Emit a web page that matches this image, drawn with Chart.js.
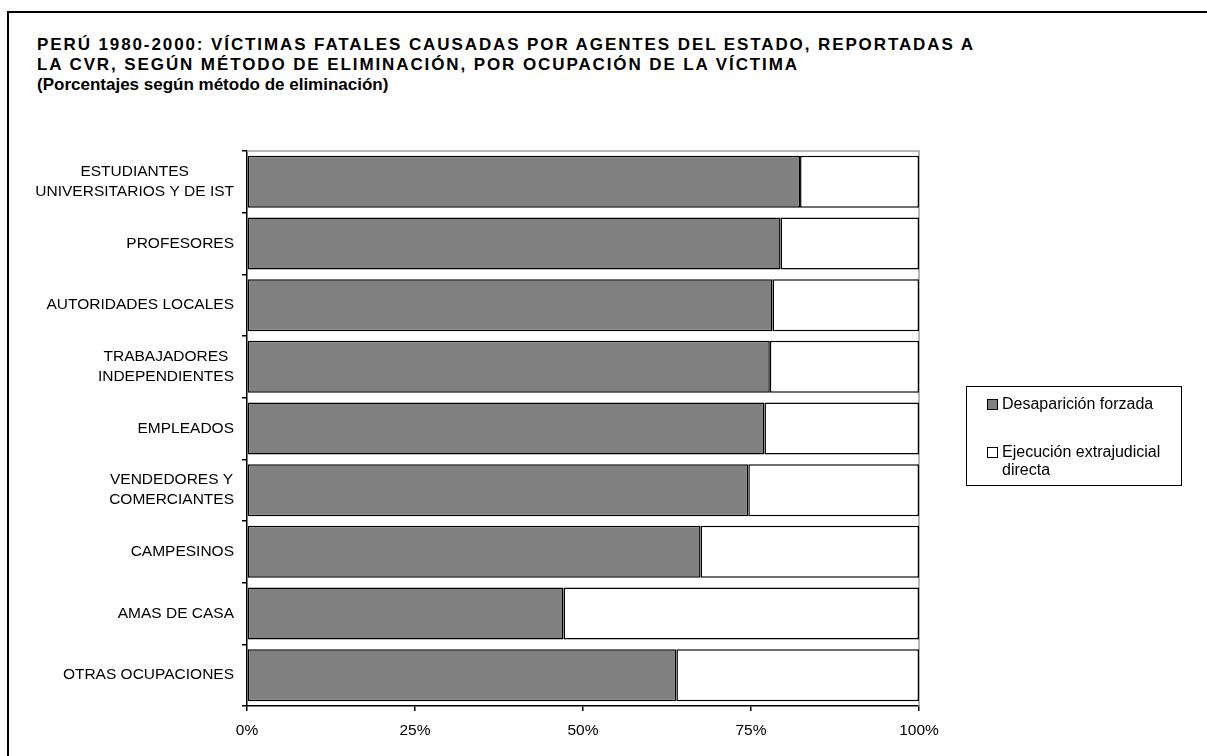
<!DOCTYPE html>
<html>
<head>
<meta charset="utf-8">
<script src="https://cdn.jsdelivr.net/npm/chart.js@4/dist/chart.umd.min.js"></script>
<style>
    body { margin: 0; width: 1207px; height: 756px; overflow: hidden; background: #fff; position: relative; font-family: "Liberation Sans", Arial, sans-serif; }
    #frame { position: absolute; left: 7px; top: 11px; width: 1240px; height: 800px; border: 2px solid #000; }
    #title { position: absolute; left: 37px; top: 35px; font-weight: bold; font-size: 17px; line-height: 20px; color: #000; white-space: nowrap; }
    #title .caps { letter-spacing: 1.9px; }
    #chart { position: absolute; left: 0; top: 0; }
    #legend { position: absolute; left: 966px; top: 386px; width: 214px; height: 98px; border: 1px solid #000; font-size: 16px; line-height: 18px; }
    .item { position: absolute; left: 20px; display: flex; align-items: flex-start; }
    .swatch { width: 9px; height: 9px; border: 1px solid #000; margin-top: 4px; margin-right: 4px; flex: none; }
</style>
</head>
<body>
<div id="frame"></div>
<div id="title"><span class="caps">PERÚ 1980-2000: VÍCTIMAS FATALES CAUSADAS POR AGENTES DEL ESTADO, REPORTADAS A</span><br><span class="caps">LA CVR, SEGÚN MÉTODO DE ELIMINACIÓN, POR OCUPACIÓN DE LA VÍCTIMA</span><br>(Porcentajes según método de eliminación)</div>
<canvas id="chart" width="1207" height="756"></canvas>
<div id="legend"></div>
<script>
const categories = [
    ['ESTUDIANTES', 'UNIVERSITARIOS Y DE IST'],
    ['PROFESORES'],
    ['AUTORIDADES LOCALES'],
    ['TRABAJADORES', 'INDEPENDIENTES'],
    ['EMPLEADOS'],
    ['VENDEDORES Y', 'COMERCIANTES'],
    ['CAMPESINOS'],
    ['AMAS DE CASA'],
    ['OTRAS OCUPACIONES']
];
const desaparicion = [82.3, 79.4, 78.2, 77.8, 77.0, 74.6, 67.5, 47.1, 63.9];
const ejecucion = [17.7, 20.6, 21.8, 22.2, 23.0, 25.4, 32.5, 52.9, 36.1];
const seriesNames = ['Desaparición forzada', ['Ejecución extrajudicial', 'directa']];
const seriesColors = ['#808080', '#ffffff'];
const xTickStep = 25;

Chart.defaults.font.family = '"Liberation Sans", Arial, sans-serif';
Chart.defaults.color = '#000';

// y labels: right-aligned blocks, lines centered inside each block
const yLabelPlugin = {
    id: 'yLabels',
    afterDraw(chart) {
        const ctx = chart.ctx;
        const y = chart.scales.y;
        const right = chart.chartArea.left - 13;
        ctx.save();
        ctx.font = '15.5px "Liberation Sans", Arial, sans-serif';
        ctx.fillStyle = '#000';
        ctx.textAlign = 'center';
        ctx.textBaseline = 'middle';
        categories.forEach((lines, i) => {
            const w = Math.max(...lines.map(l => ctx.measureText(l).width));
            const cy = y.getPixelForValue(i);
            lines.forEach((l, j) => ctx.fillText(l, right - w / 2, cy + (j - (lines.length - 1) / 2) * 20));
        });
        ctx.restore();
    }
};

// light grey top and right edges of the plot area
const plotEdgePlugin = {
    id: 'plotEdge',
    beforeDatasetsDraw(chart) {
        const {ctx, chartArea: a} = chart;
        ctx.save();
        ctx.strokeStyle = '#a0a0a0';
        ctx.lineWidth = 1.5;
        ctx.beginPath();
        ctx.moveTo(a.left, a.top);
        ctx.lineTo(a.right, a.top);
        ctx.lineTo(a.right, a.bottom);
        ctx.stroke();
        ctx.restore();
    }
};

new Chart(document.getElementById('chart'), {
    type: 'bar',
    data: {
        labels: categories,
        datasets: [
            {label: 'Desaparición forzada', data: desaparicion, backgroundColor: seriesColors[0], borderColor: '#000', borderWidth: 1.5, borderSkipped: false},
            {label: 'Ejecución extrajudicial directa', data: ejecucion, backgroundColor: seriesColors[1], borderColor: '#000', borderWidth: 1.5, borderSkipped: false}
        ]
    },
    options: {
        indexAxis: 'y',
        responsive: false,
        animation: false,
        datasets: {bar: {barPercentage: 0.843, categoryPercentage: 1}},
        layout: {padding: {left: 0, top: 151, right: 288, bottom: 0}},
        plugins: {legend: {display: false}, title: {display: false}, tooltip: {enabled: false}},
        scales: {
            x: {
                stacked: true,
                min: 0,
                max: 100,
                afterFit: scale => { scale.height = 50; },
                ticks: {stepSize: xTickStep, padding: 10, font: {size: 15.5}, callback: v => v + '%'},
                grid: {drawOnChartArea: false, tickLength: 5, color: '#000', lineWidth: 1.5},
                border: {color: '#000', width: 1.5}
            },
            y: {
                stacked: true,
                afterFit: scale => { scale.width = 247; },
                ticks: {color: 'rgba(0,0,0,0)', font: {size: 15.5}},
                grid: {drawOnChartArea: false, offset: true, tickLength: 5, color: '#000', lineWidth: 1.5},
                border: {color: '#000', width: 1.5}
            }
        }
    },
    plugins: [plotEdgePlugin, yLabelPlugin]
});

// legend box
const legend = document.getElementById('legend');
const itemTops = [8, 56];
seriesNames.forEach((name, i) => {
    const lines = Array.isArray(name) ? name : [name];
    legend.innerHTML +=
        `<div class="item" style="top:${itemTops[i]}px">
            <div class="swatch" style="background:${seriesColors[i]}"></div>
            <div>${lines.join('<br>')}</div>
        </div>`;
});
</script>
</body>
</html>
